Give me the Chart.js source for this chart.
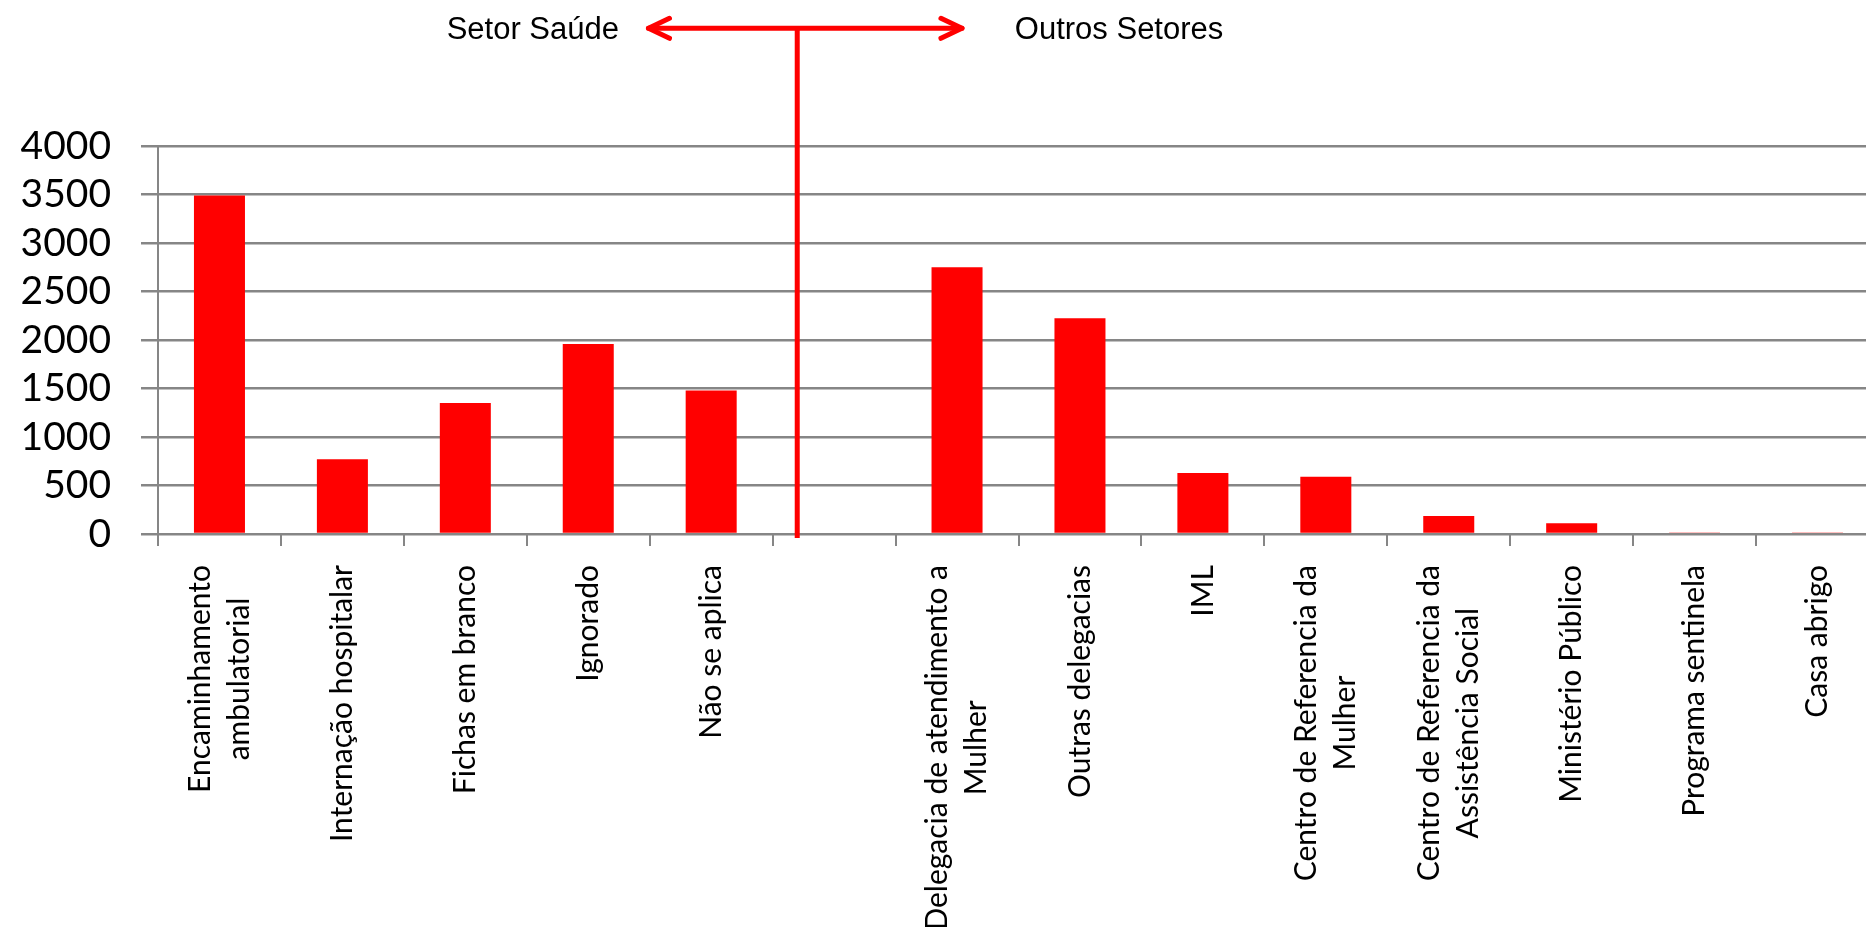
<!DOCTYPE html>
<html>
<head>
<meta charset="utf-8">
<script src="https://cdn.jsdelivr.net/npm/chart.js@4.4.1/dist/chart.umd.min.js"></script>
<style>
  html, body { margin: 0; padding: 0; background: #ffffff; overflow: hidden; }
  #wrap { position: relative; width: 1879px; height: 927px; }
</style>
</head>
<body>
<div id="wrap"><canvas id="c"></canvas></div>
<script>
// ---- data ----
const categories = [
  ["Encaminhamento", "ambulatorial"],
  ["Internação hospitalar"],
  ["Fichas em branco"],
  ["Ignorado"],
  ["Não se aplica"],
  [""],
  ["Delegacia de atendimento a", "Mulher"],
  ["Outras delegacias"],
  ["IML"],
  ["Centro de Referencia da", "Mulher"],
  ["Centro de Referencia da", "Assistência Social"],
  ["Ministério Público"],
  ["Programa sentinela"],
  ["Casa abrigo"]
];
const values = [3490, 770, 1350, 1960, 1480, null, 2750, 2225, 630, 590, 185, 110, 15, 15];
const yTicks = [0, 500, 1000, 1500, 2000, 2500, 3000, 3500, 4000];
const sectorLabels = ["Setor Saúde", "Outros Setores"];

// ---- plugins ----
const xLabelPlugin = {
  id: 'xLabels',
  afterDraw(chart) {
    const ctx = chart.ctx;
    const xs = chart.scales.x;
    const top = chart.chartArea.bottom + 31;
    const lineH = 39;
    ctx.save();
    ctx.font = '30px Lato';
    ctx.fillStyle = '#000000';
    ctx.textBaseline = 'middle';
    ctx.textAlign = 'center';
    categories.forEach((lines, i) => {
      const cx = xs.getPixelForValue(i);
      const w = Math.max(...lines.map(l => ctx.measureText(l).width));
      ctx.save();
      ctx.translate(cx, top);
      ctx.rotate(-Math.PI / 2);
      lines.forEach((l, k) => {
        const dy = (k - (lines.length - 1) / 2) * lineH;
        ctx.fillText(l, -w / 2, dy);
      });
      ctx.restore();
    });
    ctx.restore();
  }
};

const sectorPlugin = {
  id: 'sector',
  afterDraw(chart) {
    const ctx = chart.ctx;
    const xs = chart.scales.x, ys = chart.scales.y;
    const xDiv = xs.getPixelForValue(4.7);
    const xL = xs.getPixelForValue(3.49);
    const xR = xs.getPixelForValue(6.04);
    const yArrow = ys.getPixelForValue(5213);
    const yBottom = chart.chartArea.bottom + 4;
    ctx.save();
    ctx.strokeStyle = '#ff0000';
    ctx.lineWidth = 5;
    ctx.lineJoin = 'round';
    // vertical divider
    ctx.lineCap = 'butt';
    ctx.beginPath();
    ctx.moveTo(xDiv, yArrow);
    ctx.lineTo(xDiv, yBottom);
    ctx.stroke();
    // horizontal double arrow
    ctx.lineCap = 'round';
    ctx.beginPath();
    ctx.moveTo(xL, yArrow);
    ctx.lineTo(xR, yArrow);
    ctx.stroke();
    ctx.beginPath();
    ctx.moveTo(xL + 21, yArrow - 10);
    ctx.lineTo(xL, yArrow);
    ctx.lineTo(xL + 21, yArrow + 10);
    ctx.moveTo(xR - 21, yArrow - 10);
    ctx.lineTo(xR, yArrow);
    ctx.lineTo(xR - 21, yArrow + 10);
    ctx.stroke();
    // texts
    ctx.fillStyle = '#000000';
    ctx.font = '31px "Liberation Sans", Arial, sans-serif';
    ctx.textBaseline = 'middle';
    ctx.textAlign = 'right';
    ctx.fillText(sectorLabels[0], xs.getPixelForValue(3.25), yArrow + 2);
    ctx.textAlign = 'left';
    ctx.fillText(sectorLabels[1], xs.getPixelForValue(6.47), yArrow + 2);
    ctx.restore();
  }
};

const gridCol = '#868686';

new Chart(document.getElementById('c'), {
  type: 'bar',
  data: {
    labels: categories,
    datasets: [{
      data: values,
      backgroundColor: '#ff0000',
      borderWidth: 0,
      barPercentage: 0.415,
      categoryPercentage: 1.0
    }]
  },
  options: {
    responsive: true,
    maintainAspectRatio: false,
    animation: false,
    layout: { padding: { top: 146, left: 0, right: 0, bottom: 0 } },
    plugins: { legend: { display: false }, tooltip: { enabled: false } },
    scales: {
      x: {
        type: 'category',
        offset: true,
        grid: {
          display: true,
          offset: true,
          drawOnChartArea: false,
          drawTicks: true,
          tickLength: 12,
          color: gridCol,
          lineWidth: 2
        },
        border: { display: false },
        ticks: { display: false },
        afterFit(s) { s.height = 393; }
      },
      y: {
        min: 0,
        max: 4000,
        afterBuildTicks(s) { s.ticks = yTicks.map(v => ({ value: v })); },
        grid: {
          color: gridCol,
          lineWidth: 2.5,
          drawTicks: true,
          tickLength: 17
        },
        border: { display: true, color: gridCol, width: 2 },
        ticks: {
          autoSkip: false,
          callback: (v) => String(v),
          font: { family: 'Lato', size: 39 },
          color: '#000000',
          padding: 30
        },
        afterFit(s) { s.width = 158; }
      }
    }
  },
  plugins: [xLabelPlugin, sectorPlugin]
});
</script>
</body>
</html>
